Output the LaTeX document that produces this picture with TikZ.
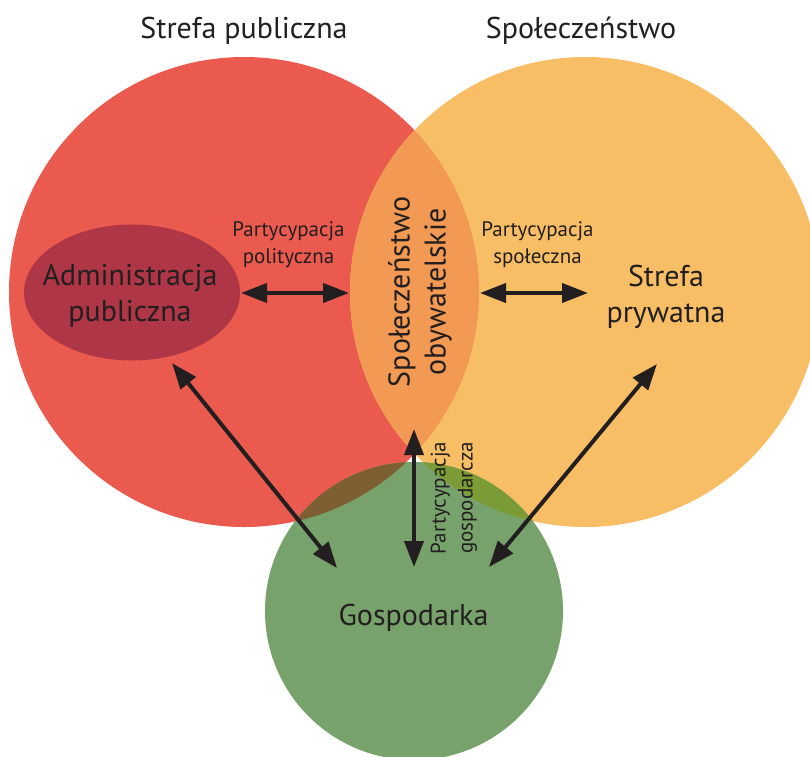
\documentclass[tikz,border=0pt]{standalone}
\usepackage{fontspec}
\setmainfont{PT Sans}
\usetikzlibrary{arrows.meta}
\definecolor{cRed}{HTML}{EB5A4E}
\definecolor{cYel}{HTML}{F7BE66}
\definecolor{cLens}{HTML}{F29A53}
\definecolor{cGreen}{HTML}{77A26B}
\definecolor{cRG}{HTML}{7E5F33}
\definecolor{cYG}{HTML}{7A9B35}
\definecolor{cAdm}{HTML}{AE3646}
\definecolor{cText}{HTML}{231F20}
\begin{document}
\begin{tikzpicture}[x=1pt,y=-1pt,
  lbl/.style={text=cText, inner sep=0pt, align=center},
  big/.style={lbl, font=\fontsize{30}{36}\selectfont},
  small/.style={lbl, font=\fontsize{21}{27}\selectfont},
  link/.style={draw=cText, line width=4pt,
    {Triangle[length=26pt,width=19pt]}-{Triangle[length=26pt,width=19pt]}}]
\useasboundingbox (0,0) rectangle (810,756);
\clip (0,0) rectangle (810,756);
% circles
\coordinate (cR) at (244,292);
\coordinate (cY) at (585,292);
\coordinate (cG) at (414,611);
\fill[cRed] (cR) circle (235pt);
\fill[cYel] (cY) circle (235pt);
\begin{scope}
  \clip (cR) circle (235pt);
  \fill[cLens] (cY) circle (235pt);
\end{scope}
\fill[cGreen] (cG) circle (149pt);
\begin{scope}
  \clip (cR) circle (235pt);
  \fill[cRG] (cG) circle (149pt);
\end{scope}
\begin{scope}
  \clip (cY) circle (235pt);
  \fill[cYG] (cG) circle (149pt);
\end{scope}
\fill[cAdm] (132,292.5) ellipse [x radius=108pt, y radius=68pt];
% titles
\node[big, anchor=base] (tPub) at (244,38) {Strefa publiczna};
\node[big, anchor=base] (tSoc) at (581,38) {Społeczeństwo};
% labels
\node[big] (adm) at (130,296) {Administracja\\publiczna};
\node[big] (priv) at (666,297) {Strefa\\prywatna};
\node[big, anchor=base] (eco) at (413.5,625) {Gospodarka};
\node[big, rotate=90] (civ) at (420,292) {Społeczeństwo\\obywatelskie};
\node[small] (lPol) at (288.5,244.5) {Partycypacja\\polityczna};
\node[small] (lSpo) at (537.5,244.5) {Partycypacja\\społeczna};
\node[small, rotate=90] (lGos) at (454,498) {Partycypacja\\gospodarcza};
% arrow ends
\coordinate (pL1) at (241,293);
\coordinate (pL2) at (349,293);
\coordinate (pR1) at (480,293);
\coordinate (pR2) at (588,293);
\coordinate (vT) at (414,429);
\coordinate (vB) at (414,567);
\coordinate (dL1) at (172,363);
\coordinate (dL2) at (337,568);
\coordinate (dR1) at (657,364);
\coordinate (dR2) at (489,567);
\draw[link] (pL1) -- (pL2);
\draw[link] (pR1) -- (pR2);
\draw[link] (vT) -- (vB);
\draw[link] (dL1) -- (dL2);
\draw[link] (dR1) -- (dR2);
\end{tikzpicture}
\end{document}
